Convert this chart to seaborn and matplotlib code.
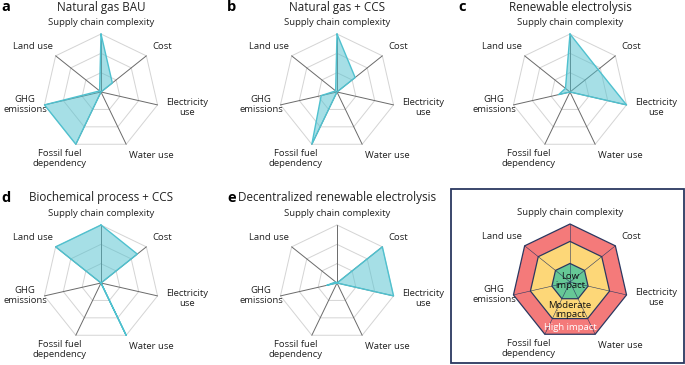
import numpy as np
import matplotlib.pyplot as plt
import seaborn as sns

sns.set_theme(style="white")
plt.rcParams['font.family'] = ['Open Sans', 'DejaVu Sans']

# axes of every radar, clockwise from the top
criteria = ["Supply chain complexity", "Cost", "Electricity\nuse", "Water use",
            "Fossil fuel\ndependency", "GHG\nemissions", "Land use"]

pathways = ["Natural gas BAU", "Natural gas + CCS", "Renewable electrolysis",
            "Biochemical process + CCS", "Decentralized renewable electrolysis"]
panel_letters = ["a", "b", "c", "d", "e"]

# impact scores (0 = none, 1 = high)
ng_bau = [1.0, 0.25, 0.0, 0.0, 1.0, 1.0, 0.03]
ng_ccs = [1.0, 0.40, 0.0, 0.0, 1.0, 0.28, 0.03]
renew_elec = [1.0, 0.62, 1.0, 0.0, 0.0, 0.20, 0.10]
bio_ccs = [1.0, 0.80, 0.0, 1.0, 0.0, 0.0, 1.0]
decentral = [0.0, 1.0, 1.0, 0.0, 0.0, 0.18, 0.03]
scores = [ng_bau, ng_ccs, renew_elec, bio_ccs, decentral]

impact_levels = ["High impact", "Moderate\nimpact", "Low\nimpact"]
impact_radius = [1.0, 0.7, 0.32]
impact_colors = ["#f47a7a", "#fdd778", "#66c896"]

W, H = 685, 365
S = 58  # px per radar unit
fig = plt.figure(figsize=(W / 100, H / 100), dpi=100)

n = len(criteria)
ang = np.pi / 2 - np.arange(n) * 2 * np.pi / n
cx, cy = np.cos(ang), np.sin(ang)
lab_pos = [(0, 1.12), (1.05, 0.78), (1.48, -0.26), (0.86, -1.09),
           (-0.71, -1.14), (-1.31, -0.22), (-1.17, 0.78)]


def radar_axes(x0, y0):
    hw, hh = 1.75, 1.6
    ax = fig.add_axes([(x0 - hw * S) / W, 1 - (y0 + hh * S) / H,
                       2 * hw * S / W, 2 * hh * S / H])
    ax.set_xlim(-hw, hw)
    ax.set_ylim(-hh, hh)
    ax.axis('off')
    return ax


def labels(ax):
    for (lx, ly), t in zip(lab_pos, criteria):
        ax.text(lx, ly, t, ha='center', va='bottom' if ly == 1.12 else 'center',
                fontsize=6.8, color='#222222', multialignment='center', linespacing=1.15)


centers = [(101, 92), (337, 92), (570, 92), (101, 283), (337, 283)]
letter_x = [1, 227, 458, 1, 227]
for i, (x0, y0) in enumerate(centers):
    ax = radar_axes(x0, y0)
    for r in [1 / 3, 2 / 3, 1.0]:
        ax.plot(np.append(cx, cx[0]) * r, np.append(cy, cy[0]) * r,
                color='#d4d4d4', lw=0.7, zorder=1)
    for k in range(n):
        ax.plot([0, cx[k]], [0, cy[k]], color='#6a6a6a', lw=0.7, zorder=2)
    v = np.array(scores[i])
    px, py = np.append(v * cx, v[0] * cx[0]), np.append(v * cy, v[0] * cy[0])
    ax.fill(px, py, color='#4fc1cf', alpha=0.5, lw=0, zorder=3)
    sns.lineplot(x=px, y=py, sort=False, estimator=None, color='#4fc1cf',
                 lw=1.0, ax=ax, zorder=4)
    labels(ax)
    fig.text(letter_x[i] / W, 1 - (y0 - 85) / H, panel_letters[i], fontsize=10.5,
             fontweight='bold', ha='left', va='center', color='black')
    fig.text(x0 / W, 1 - (y0 - 85) / H, pathways[i], fontsize=8.4,
             ha='center', va='center', color='#222222')

# key panel
box = plt.Rectangle((451 / W, 1 - 363 / H), 233 / W, 174 / H, transform=fig.transFigure,
                    fill=False, ec='#2b3860', lw=1.3)
fig.add_artist(box)
ax = radar_axes(570, 282)
for r, c in zip(impact_radius, impact_colors):
    ax.fill(cx * r, cy * r, color=c, ec='#2b3860', lw=0.9)
for k in range(n):
    ax.plot([0, cx[k]], [0, cy[k]], color='#2b3860', lw=0.4)
ax.text(0, 0.02, impact_levels[2], ha='center', va='center', fontsize=6.8,
        color='#111111', linespacing=1.0)
ax.text(0, -0.48, impact_levels[1], ha='center', va='center', fontsize=6.8,
        color='#111111', linespacing=1.0)
ax.text(0, -0.79, impact_levels[0], ha='center', va='center', fontsize=6.8,
        color='white')
labels(ax)

fig.savefig('out.png', dpi=100)
